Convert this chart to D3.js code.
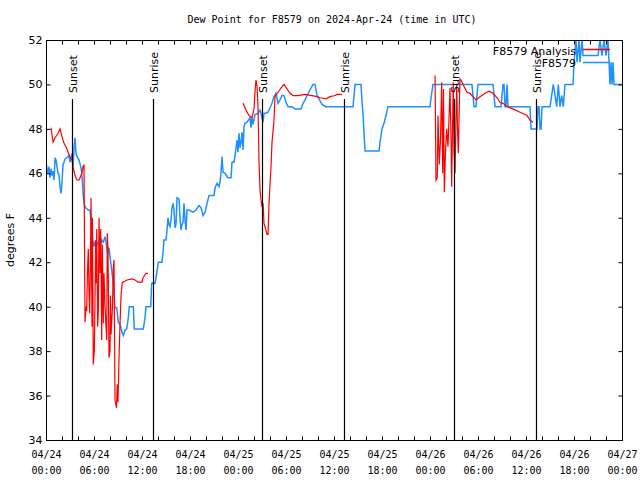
<!DOCTYPE html>
<html><head><meta charset="utf-8">
<script src="https://cdn.jsdelivr.net/npm/d3@7"></script>
<style>body{margin:0;background:#fff}svg{display:block}</style>
</head><body>
<svg id="c" width="640" height="480"></svg>
<script>
// ---- data (hours since 2024-04-24 00:00 UTC, dew point in F) ----
const obsHours = [
  0,0.13,0.25,0.38,0.5,0.63,0.75,0.88,1,1.13,
  1.25,1.38,1.5,1.63,1.75,1.88,2,2.13,2.25,2.38,
  2.63,2.88,3,3.13,3.25,3.38,3.5,3.63,3.75,3.88,
  4.13,4.34,4.46,4.59,4.66,4.79,4.96,5.29,5.5,5.59,
  5.69,5.84,6,6.13,6.34,6.54,6.75,6.96,7.16,7.38,
  7.5,7.71,7.88,8,8.21,8.41,8.63,8.84,9.04,9.25,
  9.54,9.66,9.88,10.09,10.29,10.41,10.91,11.04,12.16,12.38,
  12.5,13.09,13.21,13.63,13.84,14.04,14.5,14.63,14.75,15,
  15.13,15.25,15.38,15.5,15.63,15.75,15.88,16,16.13,16.25,
  16.38,16.63,16.75,16.88,17,17.13,17.25,17.38,17.5,17.63,
  17.88,18.38,18.75,19.13,19.38,19.63,19.88,20.13,20.38,21,
  21.13,21.38,21.63,21.75,21.88,22,22.13,22.38,22.75,23.13,
  23.25,23.5,23.63,23.88,24,24.13,24.25,24.38,24.5,24.63,
  24.75,24.88,25.13,25.5,25.63,25.75,25.88,26.13,26.5,26.75,
  26.88,27,27.13,27.25,27.5,27.75,28,28.25,28.5,28.75,
  29,29.25,29.5,29.75,30,30.25,30.75,31.13,31.88,32.13,
  32.38,32.63,33,33.38,33.63,33.88,34.5,35,38.38,38.63,
  39.38,39.5,39.63,39.75,39.88,41.63,41.75,42,42.25,42.5,
  42.75,48,48.13,48.38,53.25,53.5,53.75,54,55.88,56.13,
  56.88,57.13,57.25,57.38,57.5,57.63,57.75,60.5,60.63,61.38,
  61.5,61.63,61.75,61.88,62,63,63.21,63.41,63.63,63.84,
  64.04,64.25,64.46,64.66,64.88,65.88,66,66.25,66.38,66.63,
  66.75,67,67.13,69,69.25,69.5,69.75,70,70.25,70.38,
  70.5,70.63,70.75,70.88,71,72];
const obsDew = [
  46.5,46.2,46.0,46.3,45.8,46.2,45.9,46.1,45.7,46.7,
  46.6,46.3,46.0,45.9,45.4,45.1,45.6,46.4,46.5,46.65,
  46.7,46.8,46.5,46.7,46.9,46.3,47.1,47.6,46.9,46.75,
  46.6,46.3,46.05,45.4,44.95,44.6,44.45,44.35,44.35,44.05,
  43.6,43.0,42.7,42.9,42.8,42.9,42.7,43.0,42.9,43.15,
  42.9,42.4,42.65,42.25,41.65,41.05,39.95,39.95,39.3,39.2,
  38.8,38.7,38.95,39.0,39.5,40.0,40.0,39.0,39.0,39.5,
  40.0,40.0,41.05,41.05,41.5,42.0,42.0,42.45,43.0,43.0,
  43.45,44.0,43.7,43.6,43.9,44.45,44.65,44.35,43.55,43.7,
  44.9,44.85,44.0,43.45,43.7,43.8,44.65,43.9,43.45,44.35,
  44.35,44.25,44.35,44.55,44.45,44.1,44.25,44.65,45.0,45.0,
  45.35,45.55,45.4,45.6,46.05,46.75,46.05,46.0,45.8,45.8,
  46.5,46.5,46.8,47.5,46.95,47.8,47.15,47.4,47.85,47.05,
  48.1,48.25,48.3,48.5,48.05,48.5,48.2,48.65,48.7,48.85,
  48.7,48.5,48.3,48.7,48.7,48.75,48.95,49.15,49.45,49.6,
  49.15,49.3,49.5,49.5,49.2,49.0,49.0,48.9,48.9,49.15,
  49.3,49.5,49.75,50.0,50.0,49.5,49.1,49.0,49.0,50.0,
  50.0,49.2,48.7,47.8,47.0,47.0,47.4,48.0,48.25,48.6,
  49.0,49.0,49.4,50.0,50.0,49.0,49.0,50.0,50.0,49.0,
  49.0,50.0,50.0,49.0,49.0,50.0,49.0,49.0,48.0,48.0,
  49.0,49.0,48.0,48.0,49.0,49.0,49.5,50.0,49.5,49.0,
  50.0,49.0,49.5,49.0,50.0,50.0,51.0,52.0,51.0,52.0,
  51.0,52.0,51.3,51.3,52.0,51.3,52.0,51.3,52.0,51.0,
  50.0,51.0,50.0,51.0,50.0,50.0];

const anaHours = [
  0.63,0.88,1.13,1.5,1.75,2,2.25,2.5,2.75,3,
  3.25,3.38,3.63,3.88,4.13,4.38,4.5,4.63,4.75,4.88,
  5,5.09,5.19,5.29,5.38,5.46,5.56,5.63,5.71,5.75,
  5.81,5.91,6.04,6.13,6.21,6.29,6.34,6.46,6.54,6.63,
  6.75,6.84,6.96,7.04,7.16,7.25,7.38,7.59,7.66,7.75,
  7.88,8,8.06,8.13,8.31,8.41,8.5,8.63,8.81,8.91,
  9,9.13,9.25,9.38,9.54,9.66,10.13,10.75,11.13,11.5,
  12,12.13,12.5,12.75,
  12.8,
  24.63,25,25.38,25.75,25.88,26,26.13,26.25,26.38,26.5,
  26.63,26.75,26.88,27,27.13,27.25,27.44,27.63,27.75,27.88,
  28,28.13,28.25,28.38,28.5,28.63,29,29.5,29.75,30.13,
  30.5,30.88,31.5,32.38,33.25,33.88,34.25,35,35.5,36.13,
  36.38,37,
  37.1,
  48.63,48.75,48.91,49,49.16,49.31,49.46,49.59,49.69,49.79,
  49.94,50.09,50.25,50.38,50.5,50.63,50.71,50.81,50.91,51,
  51.13,51.25,51.34,51.44,51.54,51.66,51.75,51.88,52.13,52.63,
  53,53.38,53.75,54.25,54.88,55.38,55.88,56.38,56.75,57.13,
  57.63,58.38,59.25,60.13,60.5,60.88];
const anaDew = [
  48.05,47.4,47.6,47.8,48.0,47.65,47.35,47.2,46.95,46.75,
  46.6,46.3,45.9,45.7,45.7,45.9,46.05,46.3,46.4,39.3,
  40.0,39.8,41.7,42.6,40.5,39.7,42.0,44.9,41.0,39.1,
  44.0,37.4,38.0,40.5,43.0,41.05,43.5,39.1,39.8,44.0,
  41.5,43.5,38.5,42.8,39.25,41.5,40.0,38.5,43.3,42.6,
  37.7,38.0,40.5,38.75,40.0,41.75,42.1,35.8,35.45,36.5,
  35.7,37.75,39.2,40.5,41.1,41.1,41.2,41.25,41.2,41.1,
  41.1,41.3,41.5,41.5,
  null,
  49.15,48.85,48.6,48.5,48.7,48.9,49.7,50.2,49.9,49.0,
  46.5,45.25,44.8,44.5,44.65,43.75,43.5,43.25,43.25,44.65,
  45.5,46.3,47.4,47.9,48.4,49.45,49.65,49.9,50.0,49.8,
  49.6,49.5,49.5,49.55,49.5,49.45,49.4,49.35,49.45,49.5,
  49.55,49.55,
  null,
  50.4,45.7,45.8,48.6,46.4,47.5,50.1,46.0,49.8,45.15,
  47.0,48.0,47.2,48.5,49.85,47.5,45.4,48.0,50.1,47.0,
  46.0,48.5,50.0,48.0,46.9,49.0,50.25,50.2,50.0,49.65,
  49.6,49.45,49.3,49.45,49.6,49.7,49.6,49.4,49.2,49.15,
  49.0,48.9,48.75,48.6,48.4,48.3];

const sunEvents = ["Sunset","Sunrise","Sunset","Sunrise","Sunset","Sunrise"];
const sunHours  = [3.2,13.41,27.04,37.3,51.04,61.29];
const yTicks = [34,36,38,40,42,44,46,48,50,52];
const legendLabels = ["F8579 Analysis","F8579"];

// ---- layout ----
const svg = d3.select("#c");
const L=46, R=622, T=40, B=440;
const t0 = Date.UTC(2024,3,24);
const toDate = h => new Date(t0 + h*3600e3);
const x = d3.scaleUtc().domain([toDate(0), toDate(72)]).range([L,R]);
const y = d3.scaleLinear().domain([34,52]).range([B,T]);
const red="#ff0000", blue="#1e90ff";

svg.append("text").attr("x",332).attr("y",23).attr("text-anchor","middle")
  .attr("font-family","DejaVu Sans Mono").attr("font-size",10)
  .text("Dew Point for F8579 on 2024-Apr-24 (time in UTC)");

svg.append("defs").append("clipPath").attr("id","clip")
  .append("rect").attr("x",L).attr("y",T).attr("width",R-L).attr("height",B-T);

// data lines
const lineGen = d3.line().defined(d=>d[1]!=null).x(d=>x(toDate(d[0]))).y(d=>y(d[1]));
const plot = svg.append("g").attr("clip-path","url(#clip)");
plot.append("path").datum(obsHours.map((h,i)=>[h,obsDew[i]]))
  .attr("d",lineGen).attr("fill","none").attr("stroke",blue).attr("stroke-width",1.5);
plot.append("path").datum(anaHours.map((h,i)=>[h,anaDew[i]]))
  .attr("d",lineGen).attr("fill","none").attr("stroke",red).attr("stroke-width",1.2);

// sunrise/sunset
sunHours.forEach((h,i)=>{
  const xx = Math.round(x(toDate(h)))+0.5;
  svg.append("line").attr("x1",xx).attr("x2",xx).attr("y1",99).attr("y2",B)
    .attr("stroke","#000").attr("stroke-width",1.2);
  svg.append("text").attr("transform",`translate(${xx+4},93) rotate(-90)`)
    .attr("font-family","DejaVu Sans").attr("font-size",11).text(sunEvents[i]);
});

// axes
const fmt1 = d3.utcFormat("%m/%d"), fmt2 = d3.utcFormat("%H:%M");
const minor = d3.utcHour.every(2);
svg.append("g").attr("transform",`translate(0,${B+0.5})`)
  .call(d3.axisBottom(x).ticks(minor).tickSizeInner(-4).tickSizeOuter(0).tickFormat(""))
  .call(g=>g.select(".domain").remove());
svg.append("g").attr("transform",`translate(0,${T+0.5})`)
  .call(d3.axisTop(x).ticks(minor).tickSizeInner(-4).tickSizeOuter(0).tickFormat(""))
  .call(g=>g.select(".domain").remove());
const xl = svg.append("g").attr("transform",`translate(0,${B})`)
  .call(d3.axisBottom(x).ticks(d3.utcHour.every(6)).tickSize(0).tickFormat(""))
  .call(g=>g.select(".domain").remove());
xl.selectAll(".tick").each(function(d){
  const t = d3.select(this).append("text").attr("fill","#000")
    .attr("font-family","DejaVu Sans Mono").attr("font-size",10).attr("text-anchor","middle");
  t.append("tspan").attr("x",0).attr("y",18).text(fmt1(d));
  t.append("tspan").attr("x",0).attr("y",34).text(fmt2(d));
});
svg.append("g").attr("transform",`translate(${L+0.5},0)`)
  .call(d3.axisLeft(y).tickValues(yTicks).tickSizeInner(-4).tickSizeOuter(0).tickPadding(4).tickFormat(d3.format("d")))
  .call(g=>g.select(".domain").remove())
  .call(g=>g.selectAll("text").attr("font-family","DejaVu Sans").attr("font-size",11));
svg.append("g").attr("transform",`translate(${R+0.5},0)`)
  .call(d3.axisRight(y).tickValues(yTicks).tickSizeInner(-4).tickSizeOuter(0).tickFormat(""))
  .call(g=>g.select(".domain").remove());

svg.append("rect").attr("x",L+0.5).attr("y",T+0.5).attr("width",R-L).attr("height",B-T)
  .attr("fill","none").attr("stroke","#000");

svg.append("text").attr("transform","translate(14,240) rotate(-90)").attr("text-anchor","middle")
  .attr("font-family","DejaVu Sans").attr("font-size",11).text("degrees F");

// legend
const lg = svg.append("g");
[[red,49.5,55],[blue,62.5,67]].forEach((c,i)=>{
  lg.append("text").attr("x",576).attr("y",c[2]).attr("text-anchor","end")
    .attr("font-family","DejaVu Sans").attr("font-size",11).text(legendLabels[i]);
  lg.append("line").attr("x1",583).attr("x2",610).attr("y1",c[1]).attr("y2",c[1])
    .attr("stroke",c[0]).attr("stroke-width",1.5);
});
</script>
</body></html>
